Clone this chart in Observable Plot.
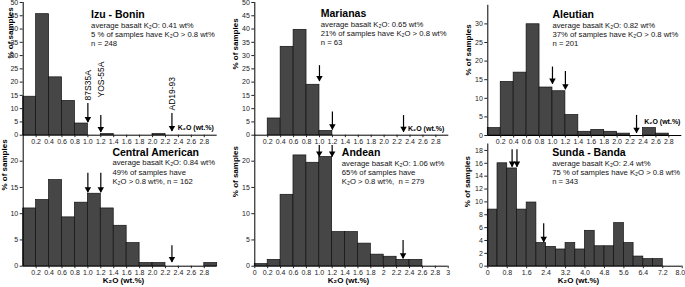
<!DOCTYPE html>
<html><head><meta charset="utf-8">
<script src="https://cdn.jsdelivr.net/npm/d3@7"></script>
<script src="https://cdn.jsdelivr.net/npm/@observablehq/plot@0.6"></script>
<style>
body{margin:0;background:#fff}
#chart{position:relative;width:685px;height:287px;background:#fff;overflow:hidden}
#chart svg{position:absolute;left:0;top:0}
</style></head><body><div id="chart"></div>
<script>
// ---- data (percent of samples per K2O bin) ----
const izuBonin      = [14.5, 45.6, 21.8, 12.9, 4.4, 0, 0.4, 0, 0, 0, 0.4, 0, 0, 0, 0];
const marianas      = [0, 6.3, 33.3, 39.7, 19.0, 1.6, 0, 0, 0, 0, 0, 0, 0, 0, 0];
const aleutian      = [2.0, 14.4, 16.9, 29.9, 12.9, 11.9, 5.5, 1.0, 1.5, 1.0, 0.5, 0, 2.0, 0.5, 0];
const centralAm     = [11.0, 12.6, 16.4, 9.3, 12.1, 13.8, 11.0, 7.7, 4.4, 0.6, 0.6, 0, 0, 0, 0.6];
const andean        = [0.4, 1.2, 13.6, 21.1, 19.7, 20.8, 6.5, 6.5, 4.3, 2.2, 1.8, 1.2, 1.2, 0, 0];
const sundaBanda    = [8.8, 16.0, 15.2, 8.8, 9.9, 3.6, 3.0, 2.6, 3.6, 2.6, 5.5, 3.1, 3.1, 6.7, 3.6, 1.5, 1.1, 1.1, 0, 0];

// sample K2O positions marked by arrows
const arrowX = [1.0, 1.2, 2.3];
const sampleNames = ["87S35A", "YOS-55A", "AD19-93"];

// tick values and labels
const ticksEdge = [0.2,0.4,0.6,0.8,1.0,1.2,1.4,1.6,1.8,2.0,2.2,2.4,2.6,2.8];
const labelsEdge = ["0.2","0.4","0.6","0.8","1.0","1.2","1.4","1.6","1.8","2.0","2.2","2.4","2.6","2.8"];
const ticksAndean = [0,0.2,0.4,0.6,0.8,1.0,1.2,1.4,1.6,1.8,2.0,2.2,2.4,2.6,2.8,3.0];
const labelsAndean = ["0","0.2","0.4","0.6","0.8","1.0","1.2","1.4","1.6","1.8","2","2.2","2.4","2.6","2.8","3"];
const ticksSunda = [0,0.8,1.6,2.4,3.2,4.0,4.8,5.6,6.4,7.2,8.0];
const labelsSunda = ["0","0.8","1.6","2.4","3.2","4.0","4.8","5.6","6.4","7.2","8.0"];
const yTicks50 = [0,5,10,15,20,25,30,35,40,45,50];
const yTicks30 = [0,5,10,15,20,25,30];
const yTicks20 = [0,5,10,15,20];
const yTicks18 = [0,2,4,6,8,10,12,14,16,18];

const panels = [
  {name:"Izu - Bonin", values:izuBonin, bw:0.2,
   info:"average basalt K₂O: 0.41 wt%\n5 % of samples have K₂O > 0.8 wt%\nn = 248",
   frame:{left:22.7,right:216.7,top:2,bottom:134.7}, xDomain:[0,3], yDomain:[0,50],
   xTicks:ticksEdge, xLabels:labelsEdge, yTicks:yTicks50,
   titleAt:[1.05,45.5], infoAt:[1.05,38.1],
   arrowTop:[11.9,7.4,8.2], arrowTip:[4.75,1.0,1.4],
   sampleBase:[13.1,14.2,9.3],
   kLabel:[2.39,2.9], yTitleAt:[10,58]},
  {name:"Marianas", values:marianas, bw:0.2,
   info:"average basalt K₂O: 0.65 wt%\n21% of samples have K₂O > 0.8 wt%\nn = 63",
   frame:{left:254.3,right:448.3,top:2,bottom:134.7}, xDomain:[0,3], yDomain:[0,50],
   xTicks:ticksEdge, xLabels:labelsEdge, yTicks:yTicks50,
   titleAt:[1.02,45.7], infoAt:[1.02,38.5],
   arrowTop:[26.2,8.7,7.4], arrowTip:[20.2,2.0,1.1],
   kLabel:[2.37,2.4], yTitleAt:[235,69]},
  {name:"Aleutian", values:aleutian, bw:0.2,
   info:"average basalt K₂O: 0.82 wt%\n37% of samples have K₂O > 0.8 wt%\nn = 201",
   frame:{left:487.3,right:681.3,top:4.8,bottom:135}, xDomain:[0,3], yDomain:[0,35],
   xTicks:ticksEdge, xLabels:labelsEdge, yTicks:yTicks30,
   titleAt:[1.0,32.5], infoAt:[1.0,27.3],
   arrowTop:[18.4,17.2,5.4], arrowTip:[13.8,12.3,0.6],
   kLabel:[2.42,3.6], yTitleAt:[468.3,75]},
  {name:"Central American", values:centralAm, bw:0.2,
   info:"average basalt K₂O: 0.84 wt%\n49% of samples have\nK₂O > 0.8 wt%, n = 162",
   frame:{left:22.7,right:216.7,top:134.45,bottom:265.7}, xDomain:[0,3], yDomain:[0,25],
   xTicks:ticksEdge, xLabels:labelsEdge, yTicks:yTicks20,
   titleAt:[1.38,21.7], infoAt:[1.38,18.0],
   arrowTop:[17.7,17.7,3.9], arrowTip:[14.0,14.0,0.7],
   xTitleAt:[123,282.7], yTitleAt:[4,190]},
  {name:"Andean", values:andean, bw:0.2,
   info:"average basalt K₂O: 1.06 wt%\n65% of samples have\nK₂O > 0.8 wt%,  n = 279",
   frame:{left:254.3,right:447.7,top:134.45,bottom:265.7}, xDomain:[0,3], yDomain:[0,25],
   xTicks:ticksAndean, xLabels:labelsAndean, yTicks:yTicks20,
   titleAt:[1.35,21.7], infoAt:[1.35,17.9],
   arrowTop:[23,23,4.9], arrowTip:[20.8,20.8,1.4],
   xTitleAt:[348,282.7], yTitleAt:[235,196.7]},
  {name:"Sunda - Banda", values:sundaBanda, bw:0.4,
   info:"average basalt K₂O: 2.4 wt%\n75 % of samples have K₂O > 0.8 wt%\nn = 343",
   frame:{left:487.3,right:681.7,top:143.5,bottom:265.7}, xDomain:[0,8], yDomain:[0,19],
   xTicks:ticksSunda, xLabels:labelsSunda, yTicks:yTicks18, lastLabelEnd:true,
   titleAt:[2.65,17.7], infoAt:[2.65,14.6],
   arrowTop:[18.1,18.1,6.6], arrowTip:[15.4,15.4,3.7],
   xTitleAt:[578,282.7], yTitleAt:[466.7,206.7]}
];

const W = 685, H = 287;
const FONT = '"Liberation Sans", Arial, Helvetica, sans-serif';
const chart = document.getElementById("chart");

for (const p of panels) {
  const f = p.frame;
  const nT = p.xTicks.length;
  const labelFor = d => {
    const i = p.xTicks.findIndex(t => Math.abs(t - d) < 1e-9);
    if (i < 0) return "";
    if (p.lastLabelEnd && i === nT - 1) return "";
    return p.xLabels[i];
  };
  const bins = p.values.map((v, i) => ({x1: i * p.bw, x2: (i + 1) * p.bw, y: v})).filter(d => d.y > 0);
  const arrows = arrowX.map((x, i) => ({x, y1: p.arrowTop[i], y2: p.arrowTip[i]}));
  const marks = [
    Plot.rectY(bins, {x1: "x1", x2: "x2", y: "y", fill: "#464646", stroke: "#111", strokeWidth: 0.7}),
    Plot.ruleY([0], {stroke: "#000", strokeWidth: 1}),
    Plot.ruleX([0], {stroke: "#000", strokeWidth: 1}),
    Plot.axisX({ticks: p.xTicks, tickFormat: labelFor, tickSize: 2.5, tickPadding: 1, fontSize: 7, label: null}),
    Plot.axisY({ticks: p.yTicks, tickSize: 3, tickPadding: 2, fontSize: 7, label: null}),
    Plot.ruleX(arrows, {x: "x", y1: "y1", y2: "y2", stroke: "#000", strokeWidth: 1.2}),
    Plot.dot(arrows, {x: "x", y: "y2", symbol: "triangle", rotate: 180, r: 2.4, fill: "#000", stroke: "none", dy: -3.7}),
    Plot.text([p.name], {x: p.titleAt[0], y: p.titleAt[1], textAnchor: "start", fontWeight: "bold", fontSize: 10.5, fill: "#000"}),
    Plot.text([p.info], {x: p.infoAt[0], y: p.infoAt[1], textAnchor: "start", lineAnchor: "middle", fontSize: 7.7, lineHeight: 1.2, fill: "#111"}),
    Plot.text(["% of samples"], {frameAnchor: "left", rotate: -90, dx: p.yTitleAt[0] - f.left, dy: p.yTitleAt[1] - (f.top + f.bottom) / 2, fontWeight: "bold", fontSize: 8, fill: "#000"})
  ];
  if (p.lastLabelEnd) {
    marks.push(Plot.text([p.xTicks[nT - 1]], {x: d => d, frameAnchor: "bottom", text: () => p.xLabels[nT - 1], textAnchor: "end", lineAnchor: "top", dy: 3.5, dx: 3, fontSize: 7, fill: "#222"}));
  }
  if (p.kLabel) {
    marks.push(Plot.text(["K₂O (wt.%)"], {x: p.kLabel[0], y: p.kLabel[1], textAnchor: "start", fontWeight: "bold", fontSize: 7, fill: "#000"}));
  }
  if (p.xTitleAt) {
    marks.push(Plot.text(["K₂O (wt.%)"], {frameAnchor: "bottom", dx: p.xTitleAt[0] - (f.left + f.right) / 2, dy: p.xTitleAt[1] - f.bottom, fontWeight: "bold", fontSize: 8, fill: "#000"}));
  }
  if (p.sampleBase) {
    const lab = sampleNames.map((n, i) => ({x: arrowX[i], y: p.sampleBase[i], n}));
    marks.push(Plot.text(lab, {x: "x", y: "y", text: "n", rotate: -90, textAnchor: "start", fontSize: 8.5, fill: "#000"}));
  }
  const svg = Plot.plot({
    width: W, height: H,
    marginLeft: f.left, marginRight: W - f.right, marginTop: f.top, marginBottom: H - f.bottom,
    x: {domain: p.xDomain},
    y: {domain: p.yDomain},
    style: {background: "transparent", fontFamily: FONT, color: "#222", overflow: "visible"},
    marks
  });
  chart.appendChild(svg);
}
</script></body></html>
